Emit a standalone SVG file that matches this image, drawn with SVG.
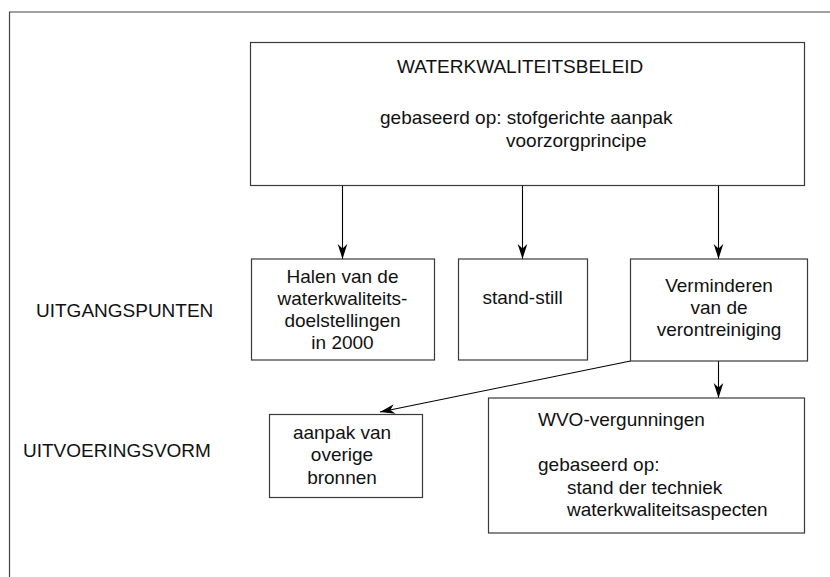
<svg xmlns="http://www.w3.org/2000/svg" width="830" height="577" viewBox="0 0 830 577">
  <style>
    .box { fill: #ffffff; stroke: #3a3a3a; stroke-width: 1.2; }
    .frame { fill: none; stroke: #444444; stroke-width: 1.2; }
    .conn { fill: none; stroke: #000000; stroke-width: 1.1; }
    text { font-family: "Liberation Sans", Arial, Helvetica, sans-serif; font-size: 19px; fill: #111111; }
    .c { text-anchor: middle; }
  </style>
  <defs>
    <marker id="arrow" viewBox="-16 -6 17 12" refX="0" refY="0" markerWidth="17" markerHeight="12" markerUnits="userSpaceOnUse" orient="auto">
      <path d="M0,0 L-15,-4.8 L-10.5,0 L-15,4.8 Z" fill="#000000"/>
    </marker>
  </defs>
  <rect width="830" height="577" fill="#ffffff"/>
  <g id="frame">
    <path class="frame" d="M9.5,577 L9.5,12 L830,12"/>
  </g>
  <g id="labels">
    <text x="36" y="317">UITGANGSPUNTEN</text>
    <text x="23" y="457">UITVOERINGSVORM</text>
  </g>
  <g id="connectors">
    <line class="conn" x1="342.5" y1="185.5" x2="342.5" y2="259" marker-end="url(#arrow)"/>
    <line class="conn" x1="522.5" y1="185.5" x2="522.5" y2="259" marker-end="url(#arrow)"/>
    <line class="conn" x1="718.5" y1="185.5" x2="718.5" y2="259" marker-end="url(#arrow)"/>
    <line class="conn" x1="718.5" y1="361" x2="718.5" y2="398" marker-end="url(#arrow)"/>
    <line class="conn" x1="630.5" y1="361" x2="380" y2="412" marker-end="url(#arrow)"/>
  </g>
  <g id="beleid">
    <rect class="box" x="250.5" y="42.5" width="554" height="143"/>
    <text x="397" y="73">WATERKWALITEITSBELEID</text>
    <text x="380" y="124">gebaseerd op: stofgerichte aanpak</text>
    <text x="506" y="147">voorzorgprincipe</text>
  </g>
  <g id="halen">
    <rect class="box" x="251.5" y="259" width="183" height="101"/>
    <text class="c" x="342.5" y="283">Halen van de</text>
    <text class="c" x="342.5" y="305">waterkwaliteits-</text>
    <text class="c" x="342.5" y="327">doelstellingen</text>
    <text class="c" x="342.5" y="349">in 2000</text>
  </g>
  <g id="standstill">
    <rect class="box" x="458.5" y="259" width="129" height="101"/>
    <text class="c" x="522.5" y="304">stand-still</text>
  </g>
  <g id="verminderen">
    <rect class="box" x="630.5" y="259" width="177" height="102"/>
    <text class="c" x="719" y="292">Verminderen</text>
    <text class="c" x="719" y="313.5">van de</text>
    <text class="c" x="719" y="335.5">verontreiniging</text>
  </g>
  <g id="aanpak">
    <rect class="box" x="269.5" y="414.5" width="153" height="83"/>
    <text class="c" x="342" y="438.5">aanpak van</text>
    <text class="c" x="342" y="461">overige</text>
    <text class="c" x="342" y="483.5">bronnen</text>
  </g>
  <g id="wvo">
    <rect class="box" x="488.5" y="398" width="316" height="135"/>
    <text x="538" y="426">WVO-vergunningen</text>
    <text x="538" y="470.5">gebaseerd op:</text>
    <text x="567" y="493.5">stand der techniek</text>
    <text x="567" y="516">waterkwaliteitsaspecten</text>
  </g>
</svg>
